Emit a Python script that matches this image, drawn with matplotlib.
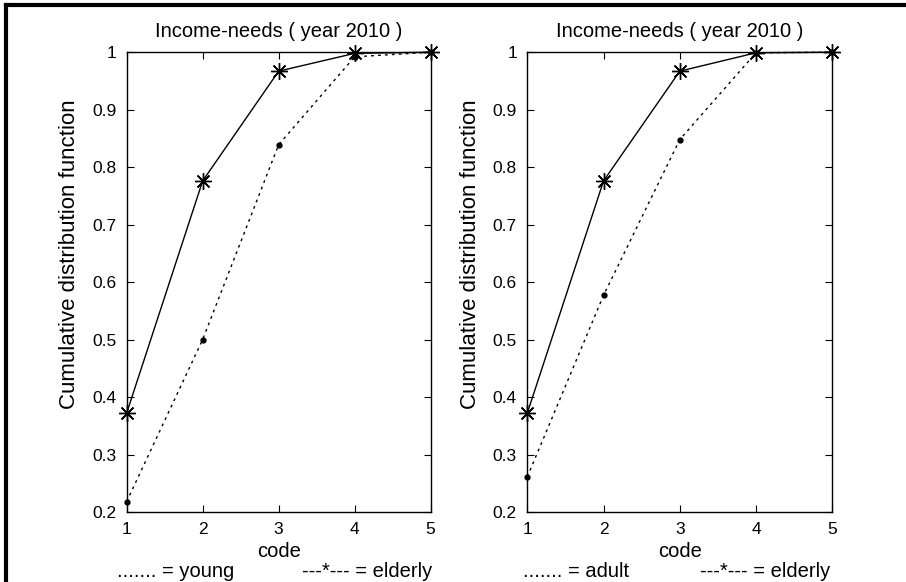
import matplotlib
matplotlib.use("Agg")
import matplotlib.pyplot as plt
from matplotlib.lines import Line2D

codes = [1, 2, 3, 4, 5]
elderly = [0.372, 0.776, 0.967, 0.998, 1.0]
young = [0.218, 0.500, 0.839, 0.992, 1.0]
elderly_r = [0.372, 0.776, 0.967, 0.999, 1.0]
adult = [0.261, 0.577, 0.848, 0.999, 1.0]

title = "Income-needs ( year 2010 )"
ylabel = "Cumulative distribution function"
xlabel = "code"
yticks = [0.2, 0.3, 0.4, 0.5, 0.6, 0.7, 0.8, 0.9, 1.0]
ytick_labels = ["0.2", "0.3", "0.4", "0.5", "0.6", "0.7", "0.8", "0.9", "1"]
legend_left = ["....... = young", "---*--- = elderly"]
legend_right = ["....... = adult", "---*--- = elderly"]

plt.rcParams['font.family'] = ['Liberation Sans', 'DejaVu Sans']
FS_TICK = 12.5
FS_TITLE = 14.5
FS_YLAB = 16
FS_XLAB = 14.5
FS_LEG = 14.5

fig = plt.figure(figsize=(9.06, 5.82), dpi=100)
ax1 = fig.add_axes([0.1398, 0.1203, 0.3355, 0.790])
ax2 = fig.add_axes([0.582, 0.1203, 0.3366, 0.790])

star = (8, 2, 0)

def draw(ax, e, o, leg, legx):
    ax.plot(codes, o, color='black', linestyle=(0, (2, 3)), linewidth=1.0,
            marker='.', markersize=7, zorder=3, clip_on=False)
    ax.plot(codes, e, color='black', linestyle='-', linewidth=1.0,
            marker=star, markersize=12, markeredgewidth=1.0, zorder=4, clip_on=False)
    ax.set_xlim(1, 5)
    ax.set_ylim(0.2, 1.0)
    ax.set_xticks(codes)
    ax.set_xticklabels([str(c) for c in codes], fontsize=FS_TICK)
    ax.set_yticks(yticks)
    ax.set_yticklabels(ytick_labels, fontsize=FS_TICK)
    ax.tick_params(direction='in', length=5, width=0.8, top=True, right=True, pad=7.5)
    for s in ax.spines.values():
        s.set_linewidth(1.0)
    ax.text(0.5, 1.0457, title, transform=ax.transAxes, fontsize=FS_TITLE,
            ha='center', va='center')
    ax.set_ylabel(ylabel, fontsize=FS_YLAB)
    ax.yaxis.set_label_coords(-0.153, 0.56)
    ax.set_xlabel(xlabel, fontsize=FS_XLAB, labelpad=3)
    ax.text(legx[0], -0.13, leg[0], transform=ax.transAxes, fontsize=FS_LEG, va='center', ha='left')
    ax.text(legx[1], -0.13, leg[1], transform=ax.transAxes, fontsize=FS_LEG, va='center', ha='left')

draw(ax1, elderly, young, legend_left, (-0.032, 0.577))
draw(ax2, elderly_r, adult, legend_right, (-0.014, 0.566))

# frame lines (left and top edges of the scanned figure)
fig.add_artist(Line2D([0.0066, 0.0066], [0, 0.992], transform=fig.transFigure, color='black', linewidth=3))
fig.add_artist(Line2D([0.0066, 1.0], [0.992, 0.992], transform=fig.transFigure, color='black', linewidth=3))

fig.savefig("out.png", dpi=100)
